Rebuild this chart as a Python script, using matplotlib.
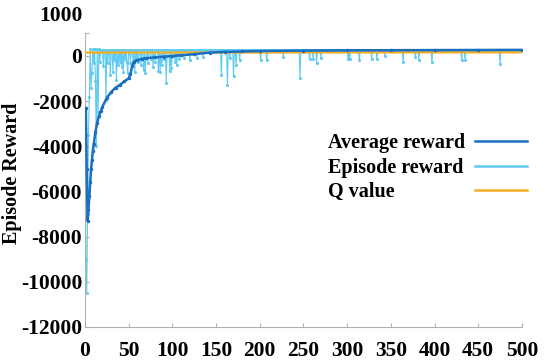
import numpy as np
import matplotlib
matplotlib.use('Agg')
import matplotlib.pyplot as plt
import matplotlib.transforms as mtransforms

plt.rcParams['font.family'] = ['Liberation Serif', 'DejaVu Serif']
plt.rcParams['font.weight'] = 'bold'
plt.rcParams['axes.unicode_minus'] = False

# average reward, read at key episodes
avg_eps = [0, 1, 2, 3, 4, 5, 6, 7, 8, 9, 10, 12, 14, 16, 18, 20, 25, 30, 35,
           40, 45, 50, 52, 54, 56, 60, 65, 70, 80, 90, 100, 110, 125, 143,
           160, 180, 200, 250, 300, 350, 400, 450, 500]
avg_reward = [-2400, -2300, -5000, -7300, -6800, -6200, -5600, -5000, -4600,
              -4200, -3900, -3350, -2950, -2650, -2450, -2250, -1850, -1600,
              -1400, -1280, -1130, -990, -800, -450, -250, -180, -130, -100,
              -60, -30, 0, 30, 80, 150, 180, 200, 220, 240, 250, 255, 260,
              265, 270]

# episode reward: first episodes, then the drops, the rest sit at the top level
early_eps = list(range(17))
early_reward = [-2300, -9000, -10500, -7000, -3500, -1800, 300, -1400, -750,
                300, -300, 300, -1100, -4000, 300, -2500, 300]
drop_eps = [17, 21, 24, 26, 29, 32, 34, 36, 38, 40, 42, 44, 46, 48, 49, 52,
            55, 57, 59, 61, 64, 67, 69, 72, 75, 78, 80, 84, 86, 88, 90, 93,
            97, 99, 103, 105, 108, 113, 120, 128, 135, 156, 163, 166, 170,
            173, 177, 201, 208, 227, 246, 257, 261, 265, 270, 301, 303, 314,
            328, 334, 343, 364, 378, 382, 397, 431, 435, 475]
drop_reward = [-250, -450, -1950, -300, -840, -700, -200, -1060, -400, -250,
               -500, -700, -150, -250, -770, -300, -250, -700, -200, -250,
               -400, -620, -760, -300, -150, -470, -250, -650, -700, -400,
               -150, -1200, -650, -550, -250, -420, -150, -100, -200, -80,
               -50, -840, -1280, -100, -900, -400, -180, -200, -200, -30,
               -960, -150, -150, -300, -80, -150, -150, -200, -150, -150, 0,
               -280, -50, -180, -280, -200, -200, -350]
top_reward = 280

q_eps = [0, 500]
q_value = [150, 160]

episodes = np.arange(501)
ep_reward = np.full(len(episodes), top_reward, dtype=float)
ep_reward[early_eps] = early_reward
ep_reward[drop_eps] = drop_reward

fig = plt.figure(figsize=(5.5, 3.61), dpi=100)
ax = fig.add_axes([0.1545, 0.0942, 0.7945, 0.8133])

l_ep, = ax.plot(episodes, ep_reward, color='#5fcbf0', lw=0.8, marker='o',
                ms=1.2, label='Episode reward', zorder=2)
l_q, = ax.plot(q_eps, q_value, color='#f5ae22', lw=1.6, label='Q value',
               zorder=3)
l_avg, = ax.plot(avg_eps, avg_reward, color='#1a6fc0', lw=1.8, marker='o',
                 ms=1.5, label='Average reward', zorder=4)

ax.set_xlim(0, 500)
ax.set_ylim(-12000, 1000)
ax.set_xticks(np.arange(0, 501, 50))
ax.set_yticks(np.arange(-12000, 1001, 2000).tolist() + [1000])
for s in ['top', 'right']:
    ax.spines[s].set_visible(False)
for s in ['left', 'bottom']:
    ax.spines[s].set_color('#b0b0b0')
ax.tick_params(direction='in', length=3, color='#b0b0b0', labelsize=15.5)
ax.tick_params(axis='x', pad=10)
ax.tick_params(axis='y', pad=2)
# the top label sits higher than its tick in the original
top_lab = ax.get_yticklabels()[-1]
top_lab.set_transform(top_lab.get_transform() +
                      mtransforms.ScaledTranslation(0, 0.2, fig.dpi_scale_trans))

ax.set_ylabel('Episode Reward', fontsize=14.5, fontweight='bold')
ax.yaxis.set_label_coords(-0.144, 0.523)

leg = ax.legend(handles=[l_avg, l_ep, l_q], loc='center right', frameon=False,
                markerfirst=False, fontsize=14.5, handlelength=2.6,
                handletextpad=0.45, labelspacing=0.22, borderpad=0,
                borderaxespad=0, bbox_to_anchor=(0.958, 0.535),
                bbox_transform=fig.transFigure)
for h in leg.legend_handles:
    h.set_marker('')
    h.set_linewidth(1.8)

# left-align the labels while keeping the lines in one column on the right
fig.canvas.draw()
renderer = fig.canvas.get_renderer()
widths = [t.get_window_extent(renderer).width for t in leg.get_texts()]
rows = leg._legend_handle_box.get_children()[0].get_children()
for row, w in zip(rows, widths):
    row.sep = row.sep + (max(widths) - w) * 72 / fig.dpi

fig.savefig('out.png', dpi=100)
